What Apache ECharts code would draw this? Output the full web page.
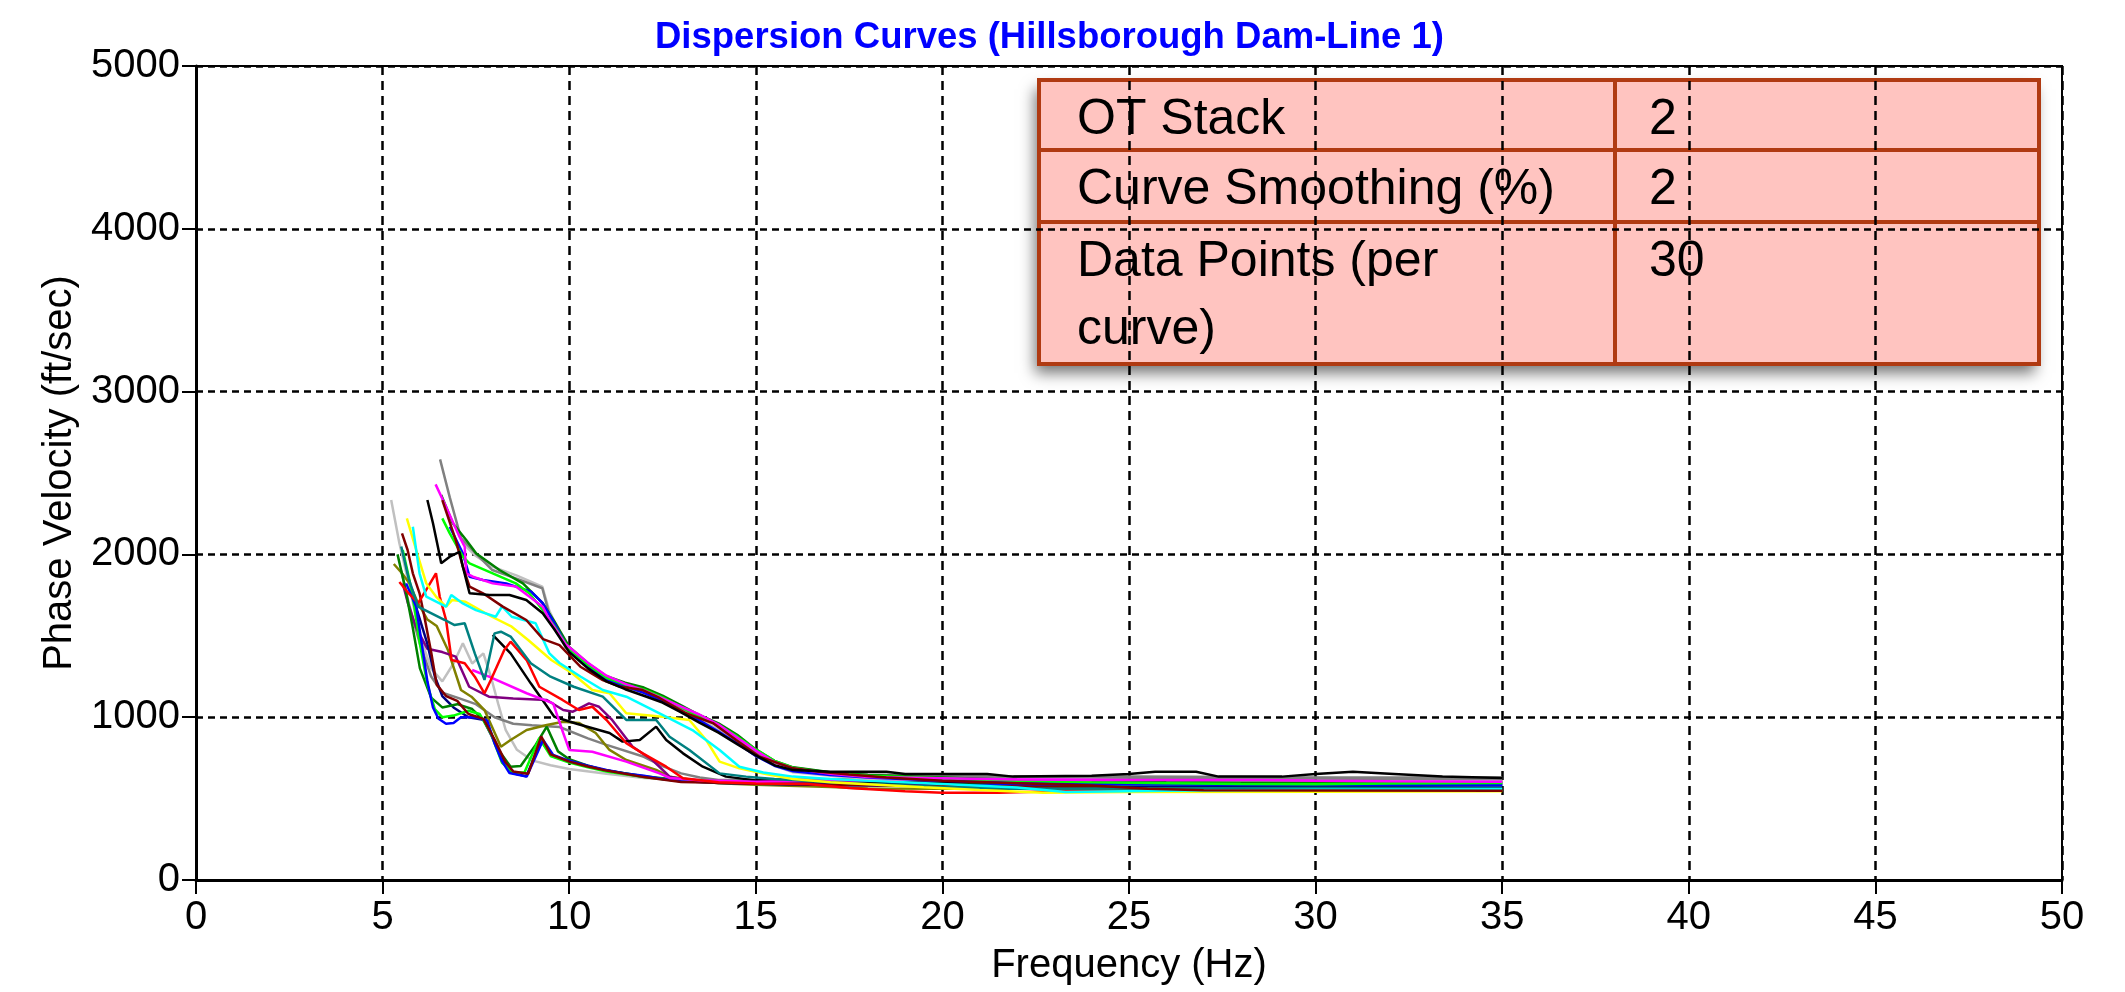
<!DOCTYPE html>
<html>
<head>
<meta charset="utf-8">
<script src="https://cdn.jsdelivr.net/npm/echarts/dist/echarts.min.js"></script>
<style>
html, body { margin: 0; padding: 0; background: #fff; }
#container { width: 2125px; height: 992px; }
</style>
</head>
<body>
<div id="container"></div>
<script>
// tick settings
var xTicks = { min: 0, max: 50, step: 5 };
var yTicks = { min: 0, max: 5000, step: 1000 };

// table contents
var tableLabels = ['OT Stack', 'Curve Smoothing (%)', 'Data Points (per\ncurve)'];
var tableValues = ['2', '2', '30'];

// dispersion curves, [frequency Hz, phase velocity ft/sec]
var grayHigh = [[6.54,2584],[6.8,2350],[7.1,2100],[7.32,2048],[7.94,1904],[8.57,1853],[9.28,1792],[9.46,1638],[9.9,1430],[10.5,1320],[11,1245],[11.5,1205],[12,1175],[12.5,1125],[13,1055],[13.5,1005],[14,945],[14.5,865],[15,785],[15.5,725],[16,690],[17,660],[18,648],[20,640],[22,635],[24.5,630],[26,626],[28,624],[30,626],[32,622],[35,620]];
var pinkHigh = [[6.42,2430],[6.7,2293],[7.06,2109],[7.2,2048],[7.24,1884],[7.42,1863],[7.95,1822],[8.58,1802],[8.93,1741],[9.29,1679],[9.47,1597],[9.9,1450],[10.5,1335],[11,1255],[11.5,1205],[12,1165],[12.5,1115],[13,1065],[13.5,1015],[14,955],[14.5,875],[15,795],[15.5,725],[16,685],[17,652],[18,632],[20,625],[22,618],[24.5,614],[26,614],[28.5,614],[30,610],[32,606],[35,604]];
var blackHigh = [[6.2,2334],[6.35,2191],[6.48,2048],[6.57,1945],[6.8,1986],[7.06,2016],[7.15,1925],[7.33,1761],[7.86,1751],[8.4,1751],[8.85,1720],[9.29,1638],[9.6,1540],[10,1400],[10.5,1300],[11,1220],[11.5,1172],[12,1132],[12.5,1090],[13,1030],[13.5,965],[14,905],[14.5,835],[15,765],[15.5,705],[16,675],[17,665],[18.5,665],[19,651],[21.2,651],[21.9,635],[24,640],[25,651],[25.7,665],[26.8,665],[27.4,635],[29.1,635],[30,651],[31,665],[32.1,651],[33.4,635],[35,626]];
var maroonHigh = [[6.6,2334],[6.96,2088],[7.15,1925],[7.33,1802],[7.69,1761],[8.22,1679],[8.85,1597],[9.3,1480],[9.74,1443],[10.3,1310],[10.9,1228],[11.35,1188],[11.97,1167],[12.42,1118],[13.13,1024],[13.85,964],[14.47,860],[15.1,757],[16,686],[16.7,665],[17.5,648],[18.5,630],[20,610],[22,595],[24,580],[25.5,560],[27,552],[30,550],[35,548]];
var limeHigh = [[6.6,2221],[6.8,2129],[7.15,1986],[7.33,1945],[7.95,1884],[8.57,1822],[8.93,1761],[9.29,1658],[9.6,1560],[10,1420],[10.5,1322],[11,1242],[11.5,1200],[12,1170],[12.5,1122],[13,1062],[13.5,1002],[14,952],[14.5,882],[15,802],[15.5,732],[16,690],[17,655],[18,640],[20,625],[22,610],[24,600],[26,595],[28,590],[30,588],[32,592],[35,596]];
var blueHigh = [[6.8,2170],[7.15,2006],[7.33,1863],[7.69,1843],[8.31,1822],[8.98,1771],[9.29,1700],[9.6,1580],[10,1410],[10.5,1310],[11,1232],[11.5,1190],[12,1150],[12.5,1100],[13,1032],[13.5,980],[14,912],[14.5,840],[15,762],[15.5,702],[16,668],[17,645],[18,630],[20,610],[22,598],[24,590],[27,588],[30,586],[35,585]];
var greenHigh = [[6.57,2365],[6.88,2191],[7.24,2088],[7.51,2006],[8.13,1904],[8.76,1822],[9.29,1700],[9.6,1590],[10,1432],[10.5,1332],[11,1252],[11.5,1212],[12,1182],[12.5,1132],[13,1072],[13.5,1012],[14,962],[14.5,892],[15,802],[15.5,732],[16,692],[17,662],[18,645],[20,630],[22,615],[24,606],[26,600],[28,598],[30,598],[35,596]];
var silverHigh = [[7.15,2068],[7.5,1990],[7.94,1925],[8.6,1870],[9.28,1802],[9.46,1658],[9.7,1540],[10,1420],[10.5,1312],[11,1232],[11.5,1182],[12,1152],[12.5,1102],[13,1042],[13.5,992],[14,922],[14.5,842],[15,762],[15.5,702],[16,662],[17,640],[18,622],[20,612],[22,604],[25,610],[28,606],[30,602],[35,608]];
var yellowMid = [[5.65,2221],[5.9,2027],[6.17,1822],[6.43,1741],[6.7,1679],[6.87,1720],[7.22,1709],[7.93,1617],[8.46,1556],[8.9,1474],[9.52,1351],[10.08,1270],[10.62,1167],[11.08,1147],[11.53,1024],[12.5,1003],[13.22,983],[13.67,860],[14.03,727],[14.56,686],[15.3,650],[16,620],[17,600],[18,588],[19.5,570],[21,553],[22.7,536],[25,540],[30,542],[35,545]];
var aquaMid = [[5.81,2170],[5.99,1884],[6.17,1741],[6.7,1679],[6.84,1751],[7.15,1699],[7.5,1658],[8.03,1617],[8.2,1680],[8.46,1617],[9.1,1577],[9.47,1392],[9.74,1333],[10.3,1250],[10.9,1167],[11.53,1126],[12.42,1024],[13.3,921],[14.03,799],[14.56,696],[15.2,660],[16,635],[17,620],[18.5,605],[20,590],[22,568],[23.3,540],[26,548],[30,555],[35,558]];
var tealMid = [[5.5,2048],[5.7,1850],[5.95,1679],[6.67,1597],[6.93,1566],[7.2,1577],[7.47,1392],[7.73,1229],[8.0,1515],[8.17,1525],[8.43,1495],[8.97,1331],[9.5,1249],[10.12,1187],[10.9,1126],[11.53,983],[12.33,983],[12.69,880],[13.22,799],[14.03,655],[14.74,635],[15.5,620],[17,600],[18.5,585],[20,572],[22,560],[25,562],[30,565],[35,565]];
var redMid = [[5.45,1830],[5.7,1760],[5.95,1700],[6.2,1794],[6.43,1884],[6.53,1741],[6.7,1597],[6.85,1351],[7.2,1331],[7.47,1249],[7.73,1147],[7.9,1229],[8.26,1413],[8.43,1464],[8.86,1351],[9.2,1187],[9.82,1106],[10.26,1044],[10.62,1064],[11,983],[11.53,840],[11.97,778],[12.6,696],[13.05,625],[14,600],[15,592],[16.4,590],[17.5,565],[19,545],[20,536],[21.5,536],[23,545],[26,550],[30,550],[35,548]];
var blueLow = [[5.63,1822],[5.9,1679],[6.05,1450],[6.2,1220],[6.35,1060],[6.5,990],[6.7,960],[6.9,965],[7.1,1000],[7.5,1000],[7.8,980],[8.0,840],[8.2,730],[8.4,657],[8.86,635],[9.3,860],[9.57,768],[9.93,737],[10.5,702],[11,676],[11.5,655],[12,640],[12.5,620],[13,606],[14,600],[15,596],[17,588],[19,585],[21,580],[23,585],[25,588],[28,590],[32,585],[35,582]];
var limeLow = [[5.54,2027],[5.72,1843],[5.85,1679],[6.0,1450],[6.2,1200],[6.4,1050],[6.6,1000],[6.9,1010],[7.3,1040],[7.6,1020],[7.9,900],[8.2,720],[8.5,662],[8.8,660],[9.2,872],[9.5,762],[10,722],[10.5,692],[11,667],[12,632],[13,607],[14,600],[16,592],[19,585],[22,582],[25,585],[28,592],[31,596],[35,600]];
var greenLow = [[5.4,2000],[5.6,1800],[5.8,1560],[6.0,1300],[6.3,1120],[6.6,1060],[7.0,1080],[7.4,1050],[7.8,960],[8.1,800],[8.43,696],[8.7,700],[9.1,830],[9.4,942],[9.7,790],[10,742],[10.5,702],[11,672],[12,637],[13,612],[15,602],[18,598],[22,600],[26,604],[30,600],[35,598]];
var maroonLow = [[5.52,2129],[5.67,2027],[5.81,1884],[5.99,1761],[6.12,1617],[6.3,1400],[6.45,1200],[6.7,1130],[7.0,1100],[7.3,1020],[7.7,990],[8.0,862],[8.3,722],[8.5,667],[8.9,652],[9.25,882],[9.5,772],[10,727],[10.5,697],[11,672],[12,632],[13,602],[15,592],[17,585],[19,580],[22,575],[25,565],[28,560],[32,556],[35,552]];
var navyLow = [[5.8,1750],[6.0,1600],[6.2,1450],[6.4,1250],[6.6,1130],[6.9,1060],[7.3,1000],[7.7,985],[8.0,850],[8.3,700],[8.5,655],[8.85,637],[9.25,852],[9.55,760],[10,730],[11,672],[12,634],[13,608],[14,596],[16,586],[18,580],[21,575],[25,574],[30,578],[35,580]];
var purpleLow = [[5.54,1822],[5.68,1699],[5.9,1550],[6.2,1420],[6.6,1400],[6.96,1372],[7.32,1187],[7.85,1126],[8.5,1115],[9.4,1106],[9.84,1044],[10.1,1034],[10.53,1085],[10.8,1064],[11.15,983],[11.7,819],[12.23,737],[12.69,635],[13.2,612],[14,602],[16,596],[20,592],[25,596],[30,592],[35,590]];
var oliveLow = [[5.3,1941],[5.52,1884],[5.72,1822],[5.95,1700],[6.2,1600],[6.45,1560],[6.75,1413],[7.1,1167],[7.38,1126],[7.73,1044],[8.17,819],[8.43,860],[8.86,921],[9.4,952],[9.84,972],[10.27,964],[10.71,903],[11.08,799],[11.53,737],[12.33,676],[12.69,635],[13.5,610],[14,594],[15,585],[17,572],[18,562],[20,560],[25,560],[30,565],[35,565]];
var silverLow = [[5.23,2334],[5.45,2068],[5.72,1802],[6.0,1500],[6.3,1300],[6.6,1220],[6.9,1330],[7.15,1454],[7.4,1330],[7.7,1392],[7.9,1250],[8.1,1080],[8.3,920],[8.6,800],[9,735],[9.5,705],[10,682],[11,652],[12,627],[13,612],[15,602],[18,606],[22,610],[26,612],[30,610],[35,608]];
var grayLow = [[5.5,1900],[5.7,1700],[6.0,1450],[6.3,1250],[6.6,1150],[7.0,1120],[7.5,1080],[8.0,1000],[8.5,960],[9.0,950],[9.74,940],[10.5,870],[11,830],[12,757],[12.5,700],[13,655],[13.5,630],[14,615],[16,618],[18,622],[20,628],[22,632],[25,636],[28,632],[30,630],[35,630]];
var blackLow = [[7.95,1505],[8.43,1392],[8.97,1208],[9.6,1003],[10.2,960],[11.08,903],[11.43,850],[11.89,860],[12.33,942],[12.6,860],[13.05,778],[13.58,696],[14.2,635],[15,612],[17,602],[20,600],[25,604],[30,608],[35,612]];
var pinkLow = [[7.4,1290],[7.85,1249],[8.86,1147],[9.57,1085],[9.84,903],[10.0,799],[10.62,788],[11.53,727],[12.42,655],[12.69,627],[13.5,612],[15,604],[18,612],[22,618],[26,616],[30,610],[35,606]];

var curveData = [silverLow, grayLow, oliveLow, purpleLow, navyLow, greenLow, limeLow, blueLow, maroonLow, blackLow, pinkLow, redMid, tealMid, yellowMid, aquaMid,
                 silverHigh, grayHigh, greenHigh, blueHigh, limeHigh, pinkHigh, maroonHigh, blackHigh];
var curveColors = ['#C0C0C0', '#808080', '#808000', '#800080', '#000080', '#008000', '#00FF00', '#0000FF', '#800000', '#000000', '#FF00FF', '#FF0000', '#008080', '#FFFF00', '#00FFFF',
                   '#C0C0C0', '#808080', '#008000', '#0000FF', '#00FF00', '#FF00FF', '#800000', '#000000'];

(function(){
    var dom = document.getElementById("container");
    var myChart = echarts.init(dom);
    var font = '"Liberation Sans", Arial, sans-serif';

    var series = [];
    for (var i = 0; i < curveData.length; i++) {
        series.push({
            type: 'line',
            data: curveData[i],
            showSymbol: false,
            symbol: 'none',
            silent: true,
            lineStyle: { color: curveColors[i], width: 2.5 },
            itemStyle: { color: curveColors[i] }
        });
    }

    // table drawn as graphic elements
    var tblLeft = 1039, tblRight = 2039, colX = 1615;
    var rowY = [80, 150, 222, 364];
    var border = '#B03A12';
    var els = [];
    els.push({
        type: 'rect',
        shape: { x: tblLeft, y: rowY[0], width: tblRight - tblLeft, height: rowY[3] - rowY[0] },
        style: { fill: '#FFC4C0', shadowBlur: 14, shadowOffsetX: -4, shadowOffsetY: 9, shadowColor: 'rgba(0,0,0,0.55)' }
    });
    for (var r = 0; r < tableLabels.length; r++) {
        els.push({
            type: 'rect',
            shape: { x: tblLeft, y: rowY[r], width: colX - tblLeft, height: rowY[r + 1] - rowY[r] },
            style: { fill: 'transparent', stroke: border, lineWidth: 4 }
        });
        els.push({
            type: 'rect',
            shape: { x: colX, y: rowY[r], width: tblRight - colX, height: rowY[r + 1] - rowY[r] },
            style: { fill: 'transparent', stroke: border, lineWidth: 4 }
        });
        els.push({
            type: 'text',
            x: 1077, y: rowY[r] + 6,
            style: { text: tableLabels[r], font: '50px ' + font, fill: '#000', lineHeight: 68, verticalAlign: 'top', align: 'left' }
        });
        els.push({
            type: 'text',
            x: 1649, y: rowY[r] + 6,
            style: { text: tableValues[r], font: '50px ' + font, fill: '#000', lineHeight: 68, verticalAlign: 'top', align: 'left' }
        });
    }

    var option = {
        animation: false,
        backgroundColor: '#fff',
        title: {
            text: 'Dispersion Curves (Hillsborough Dam-Line 1)',
            left: 650,
            top: 14,
            textStyle: { color: '#0000FF', fontSize: 36.5, fontWeight: 'bold', fontFamily: font }
        },
        grid: {
            left: 196, right: 63, top: 66, bottom: 112,
            show: true, borderColor: '#000', borderWidth: 2
        },
        xAxis: {
            type: 'value',
            min: xTicks.min, max: xTicks.max, interval: xTicks.step,
            name: 'Frequency (Hz)',
            nameLocation: 'middle',
            nameGap: 66,
            nameTextStyle: { color: '#000', fontSize: 40, fontFamily: font },
            axisLine: { lineStyle: { color: '#000', width: 3 } },
            axisTick: { length: 14, lineStyle: { color: '#000', width: 2 } },
            axisLabel: { color: '#000', fontSize: 40, fontFamily: font, margin: 18 },
            splitLine: { lineStyle: { color: '#000', width: 2.5, type: [9, 6] } }
        },
        yAxis: {
            type: 'value',
            min: yTicks.min, max: yTicks.max, interval: yTicks.step,
            name: 'Phase Velocity (ft/sec)',
            nameLocation: 'middle',
            nameGap: 114,
            nameTextStyle: { color: '#000', fontSize: 40, fontFamily: font },
            axisLine: { lineStyle: { color: '#000', width: 3 } },
            axisTick: { length: 14, lineStyle: { color: '#000', width: 2 } },
            axisLabel: {
                color: '#000', fontSize: 40, fontFamily: font, margin: 16,
                formatter: function (v) { return String(v); }
            },
            splitLine: { lineStyle: { color: '#000', width: 2.5, type: [7, 5] } }
        },
        graphic: [{ type: 'group', z: 100, children: els }],
        series: series
    };

    myChart.setOption(option, true);
    window.onresize = myChart.resize;
}())
</script>
</body>
</html>
